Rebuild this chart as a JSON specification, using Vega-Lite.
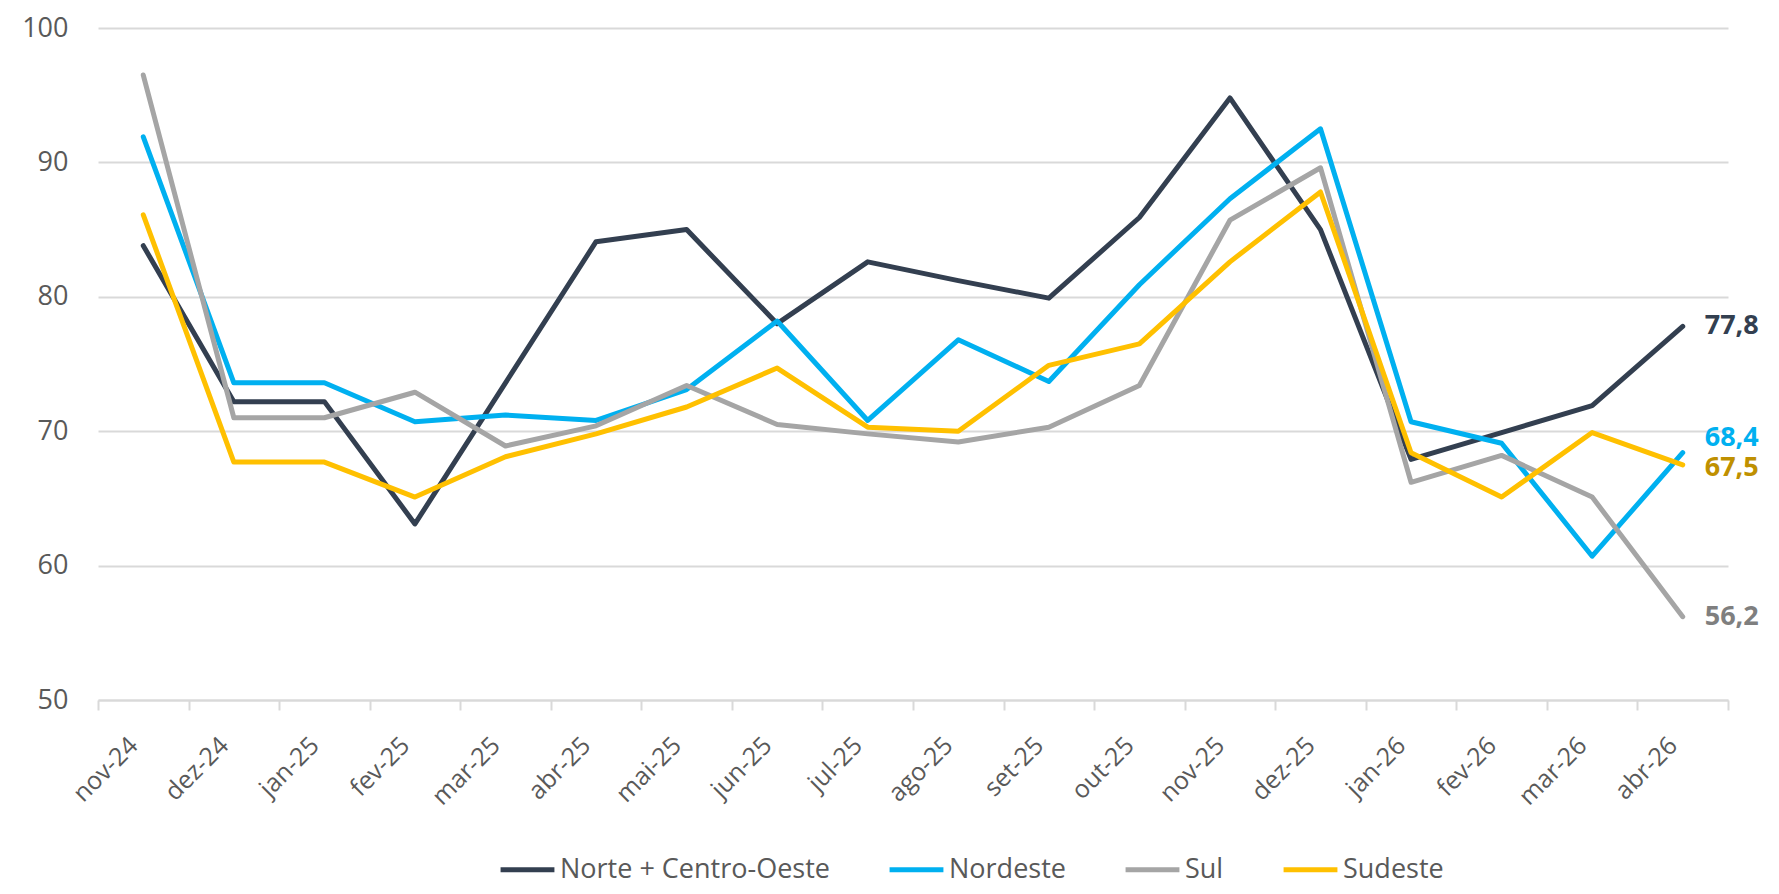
{
  "$schema": "https://vega.github.io/schema/vega-lite/v6.json",
  "width": 1630,
  "height": 672,
  "autosize": {"type": "none"},
  "padding": {"left": 98, "top": 28, "right": 51, "bottom": 194},
  "background": "white",
  "config": {
    "view": {"stroke": null},
    "locale": {"number": {"decimal": ",", "thousands": ".", "grouping": [3], "currency": ["R$", ""]}}
  },
  "data": {
    "values": [
      {"mes": "nov-24", "Norte + Centro-Oeste": 83.8, "Nordeste": 91.9, "Sul": 96.5, "Sudeste": 86.1},
      {"mes": "dez-24", "Norte + Centro-Oeste": 72.2, "Nordeste": 73.6, "Sul": 71.0, "Sudeste": 67.7},
      {"mes": "jan-25", "Norte + Centro-Oeste": 72.2, "Nordeste": 73.6, "Sul": 71.0, "Sudeste": 67.7},
      {"mes": "fev-25", "Norte + Centro-Oeste": 63.1, "Nordeste": 70.7, "Sul": 72.9, "Sudeste": 65.1},
      {"mes": "mar-25", "Norte + Centro-Oeste": 73.6, "Nordeste": 71.2, "Sul": 68.9, "Sudeste": 68.1},
      {"mes": "abr-25", "Norte + Centro-Oeste": 84.1, "Nordeste": 70.8, "Sul": 70.4, "Sudeste": 69.8},
      {"mes": "mai-25", "Norte + Centro-Oeste": 85.0, "Nordeste": 73.1, "Sul": 73.4, "Sudeste": 71.8},
      {"mes": "jun-25", "Norte + Centro-Oeste": 78.0, "Nordeste": 78.2, "Sul": 70.5, "Sudeste": 74.7},
      {"mes": "jul-25", "Norte + Centro-Oeste": 82.6, "Nordeste": 70.8, "Sul": 69.8, "Sudeste": 70.3},
      {"mes": "ago-25", "Norte + Centro-Oeste": 81.2, "Nordeste": 76.8, "Sul": 69.2, "Sudeste": 70.0},
      {"mes": "set-25", "Norte + Centro-Oeste": 79.9, "Nordeste": 73.7, "Sul": 70.3, "Sudeste": 74.9},
      {"mes": "out-25", "Norte + Centro-Oeste": 85.9, "Nordeste": 80.9, "Sul": 73.4, "Sudeste": 76.5},
      {"mes": "nov-25", "Norte + Centro-Oeste": 94.8, "Nordeste": 87.3, "Sul": 85.7, "Sudeste": 82.6},
      {"mes": "dez-25", "Norte + Centro-Oeste": 85.0, "Nordeste": 92.5, "Sul": 89.6, "Sudeste": 87.8},
      {"mes": "jan-26", "Norte + Centro-Oeste": 67.9, "Nordeste": 70.7, "Sul": 66.2, "Sudeste": 68.4},
      {"mes": "fev-26", "Norte + Centro-Oeste": 69.9, "Nordeste": 69.1, "Sul": 68.2, "Sudeste": 65.1},
      {"mes": "mar-26", "Norte + Centro-Oeste": 71.9, "Nordeste": 60.7, "Sul": 65.1, "Sudeste": 69.9},
      {"mes": "abr-26", "Norte + Centro-Oeste": 77.8, "Nordeste": 68.4, "Sul": 56.2, "Sudeste": 67.5}
    ]
  },
  "transform": [
    {"fold": ["Norte + Centro-Oeste", "Nordeste", "Sul", "Sudeste"], "as": ["serie", "valor"]}
  ],
  "encoding": {
    "x": {
      "field": "mes", "type": "ordinal", "sort": null,
      "scale": {"type": "band", "paddingInner": 0, "paddingOuter": 0},
      "axis": {
        "title": null, "grid": false,
        "domain": true, "domainColor": "#D9D9D9", "domainWidth": 2,
        "ticks": true, "tickColor": "#D9D9D9", "tickWidth": 2, "tickSize": 10, "tickBand": "extent",
        "labelAngle": -45, "labelAlign": "right", "labelBaseline": "middle",
        "labelFont": "Open Sans", "labelFontSize": 25, "labelColor": "#595959", "labelPadding": 31, "labelOffset": -10
      }
    },
    "y": {
      "field": "valor", "type": "quantitative",
      "scale": {"domain": [50, 100], "nice": false, "zero": false},
      "axis": {
        "title": null, "values": [50, 60, 70, 80, 90, 100],
        "domain": false, "ticks": false,
        "grid": true, "gridColor": "#D9D9D9", "gridWidth": 2,
        "labelFont": "Open Sans", "labelFontSize": 27, "labelColor": "#595959", "labelPadding": 30
      }
    }
  },
  "layer": [
    {
      "mark": {"type": "line", "strokeWidth": 5, "strokeCap": "round", "strokeJoin": "round"},
      "encoding": {
        "color": {
          "field": "serie", "type": "nominal",
          "scale": {"domain": ["Norte + Centro-Oeste", "Nordeste", "Sul", "Sudeste"], "range": ["#333F50", "#00B0F0", "#A5A5A5", "#FFC000"]},
          "legend": {
            "title": null, "orient": "none", "legendX": 400, "legendY": 812, "direction": "horizontal",
            "symbolType": "stroke", "symbolSize": 2900, "symbolStrokeWidth": 5,
            "labelFont": "Open Sans", "labelFontSize": 27, "labelColor": "#595959", "labelOffset": 3, "labelLimit": 500,
            "columnPadding": 49
          }
        }
      }
    },
    {
      "transform": [{"filter": "datum.mes === 'abr-26' && datum.serie === 'Norte + Centro-Oeste'"}],
      "mark": {"type": "text", "align": "left", "baseline": "middle", "dx": 22, "font": "Open Sans", "fontWeight": "bold", "fontSize": 27, "color": "#333F50"},
      "encoding": {"text": {"field": "valor", "type": "quantitative", "format": ".1f"}}
    },
    {
      "transform": [{"filter": "datum.mes === 'abr-26' && datum.serie === 'Nordeste'"}],
      "mark": {"type": "text", "align": "left", "baseline": "middle", "dx": 22, "dy": -15, "font": "Open Sans", "fontWeight": "bold", "fontSize": 27, "color": "#00B0F0"},
      "encoding": {"text": {"field": "valor", "type": "quantitative", "format": ".1f"}}
    },
    {
      "transform": [{"filter": "datum.mes === 'abr-26' && datum.serie === 'Sul'"}],
      "mark": {"type": "text", "align": "left", "baseline": "middle", "dx": 22, "font": "Open Sans", "fontWeight": "bold", "fontSize": 27, "color": "#7F7F7F"},
      "encoding": {"text": {"field": "valor", "type": "quantitative", "format": ".1f"}}
    },
    {
      "transform": [{"filter": "datum.mes === 'abr-26' && datum.serie === 'Sudeste'"}],
      "mark": {"type": "text", "align": "left", "baseline": "middle", "dx": 22, "dy": 3, "font": "Open Sans", "fontWeight": "bold", "fontSize": 27, "color": "#BF9000"},
      "encoding": {"text": {"field": "valor", "type": "quantitative", "format": ".1f"}}
    }
  ]
}
